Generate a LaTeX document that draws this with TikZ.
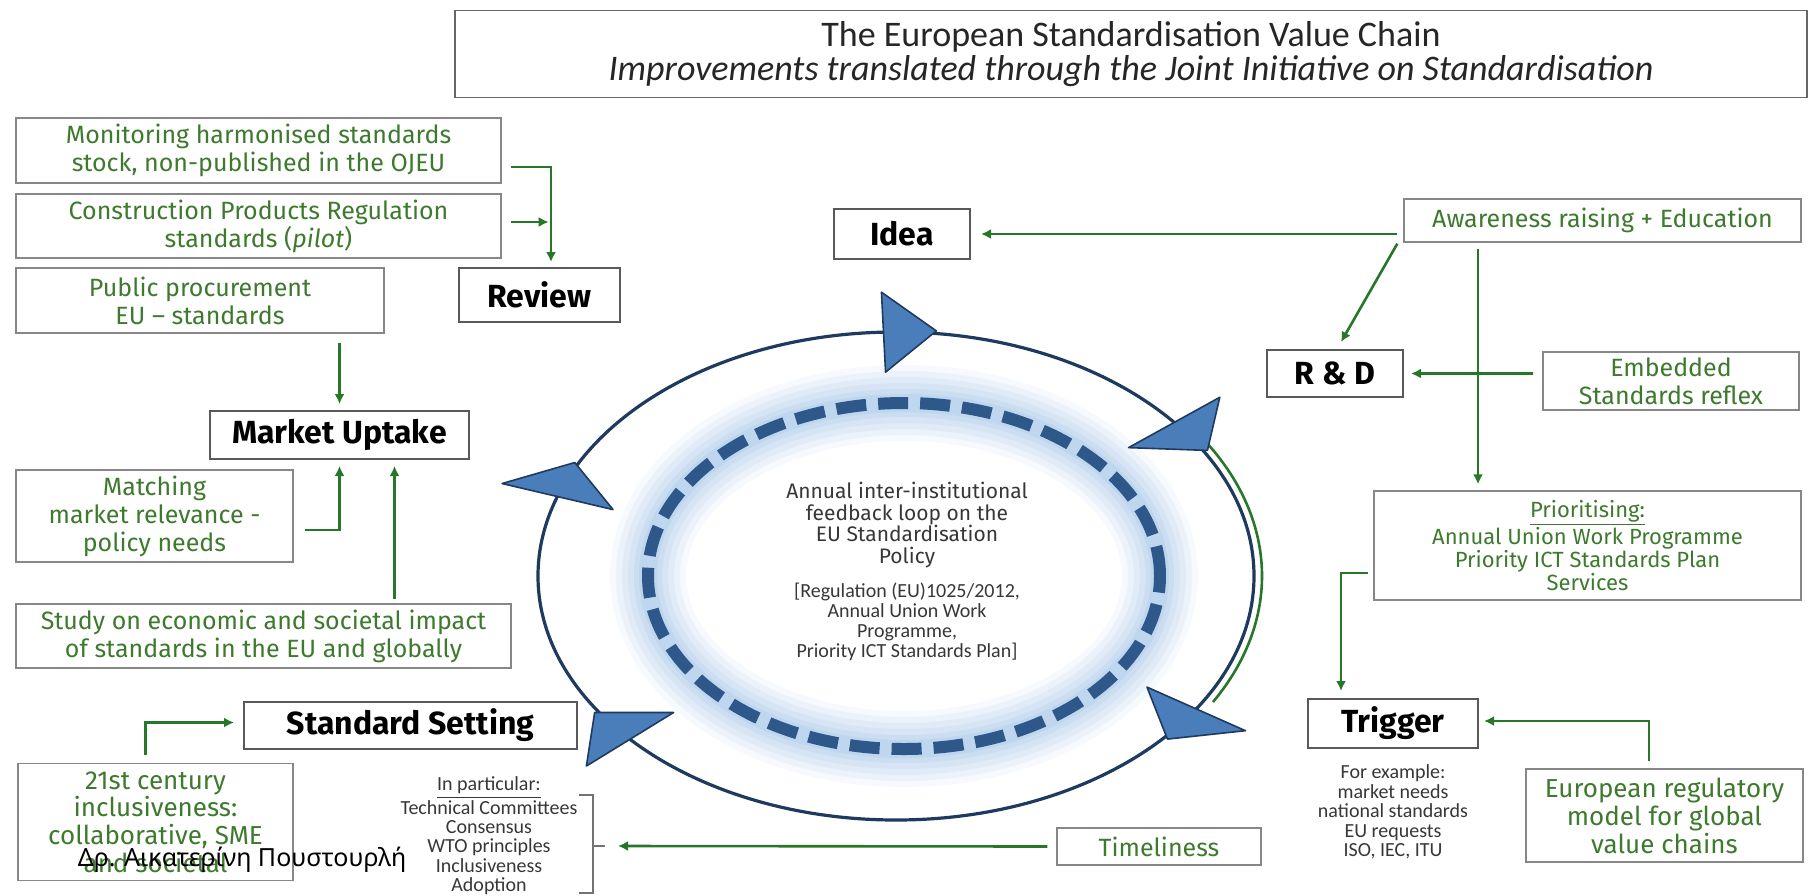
\documentclass[tikz,border=0pt]{standalone}
\usepackage{fontspec}
\setmainfont{Fira Sans}
\newfontfamily\narrowfont{Carlito}
\newfontfamily\greekfont{Noto Sans}
\usetikzlibrary{arrows.meta,calc}
\definecolor{eugreen}{RGB}{62,122,46}
\definecolor{arrowgreen}{RGB}{38,120,40}
\definecolor{boxgrey}{RGB}{135,135,135}
\definecolor{loopblue}{RGB}{31,58,95}
\definecolor{dashblue}{RGB}{46,88,138}
\definecolor{tipblue}{RGB}{74,126,187}
\definecolor{glowblue}{RGB}{150,190,232}
\definecolor{notegrey}{RGB}{55,55,55}

\begin{document}
\begin{tikzpicture}[x=0.5pt,y=-0.5pt,
                    sz/.style 2 args={minimum width=#1pt,minimum height=#2pt},
                    gbox/.style={draw=boxgrey,line width=0.7pt,text=eugreen,align=center,inner sep=0pt,
                                 font=\fontsize{12.5}{14}\selectfont},
                    kbox/.style={draw=black!65,line width=1pt,align=center,inner sep=0pt,
                                 font=\fontsize{16}{18}\selectfont\bfseries},
                    garrow/.style={draw=arrowgreen,line width=1.3pt,-{Latex[length=5pt,width=5pt]}},
                    note/.style={text=notegrey,align=center,inner sep=0pt,
                                 font=\narrowfont\fontsize{10}{9.7}\selectfont},
                    tip/.style={fill=tipblue,draw=loopblue,line width=0.8pt,line join=round}
]
\fill[white] (0,0) rectangle (1816,895);
\useasboundingbox (0,0) rectangle (1816,895);

% loop
\foreach \w/\o in {76/0.08,64/0.1,52/0.12,40/0.14,28/0.18,18/0.2}
  \draw[glowblue,line width=\w*0.5pt,opacity=\o] (904,576) ellipse [x radius=128pt,y radius=86.5pt];
\draw[dashblue,line width=6pt,dash pattern=on 15pt off 6pt] (904,576) ellipse [x radius=128pt,y radius=86.5pt];
\draw[loopblue,line width=1.6pt] (896,576) ellipse [x radius=179pt,y radius=122pt];
\draw[arrowgreen,line width=1.3pt] ({896+366*cos(34)},{576-252*sin(34)})
  arc [start angle=34,end angle=-30,x radius=183pt,y radius=126pt];
\begin{scope}[shift={(896,576)},xscale=1.467]
\foreach \a in {92,39,-33,-138,161}
  \filldraw[tip] ({244*cos(\a)+36*sin(\a)},{-244*sin(\a)+36*cos(\a)})
    -- ({284*cos(\a)},{-284*sin(\a)}) -- ({204*cos(\a)},{-204*sin(\a)}) -- cycle;
\end{scope}
\node[text=notegrey,align=center,inner sep=0pt,font=\fontsize{10.5}{10.8}\selectfont] (loop) at (907,525)
  {Annual inter-institutional\\feedback loop on the\\EU Standardisation\\Policy};
\node[note,font=\narrowfont\fontsize{10}{10}\selectfont] (reg) at (907,622)
  {[Regulation (EU)1025/2012,\\Annual Union Work\\Programme,\\Priority ICT Standards Plan]};

% title
\node[draw=black!60,line width=0.8pt,sz={676}{43.5},align=center,text=black!85,
      font=\narrowfont\fontsize{18}{17}\selectfont] (title) at (1131,54)
  {The European Standardisation Value Chain\\\textit{Improvements translated through the Joint Initiative on Standardisation}};

% left side
\node[gbox,sz={242.5}{32.5}] (mon) at (258.5,150.5) {Monitoring harmonised standards\\stock, non-published in the OJEU};
\node[gbox,sz={242.5}{32}] (cpr) at (258.5,226) {Construction Products Regulation\\standards (\textit{pilot})};
\node[gbox,sz={184}{32.5}] (pub) at (200,300.5) {Public procurement\\EU -- standards};
\node[kbox,sz={80.5}{27}] (review) at (539.5,295) {Review};
\node[kbox,sz={129.5}{24}] (mu) at (339.5,435) {Market Uptake};
\node[gbox,sz={138.5}{46}] (match) at (154.5,516) {Matching\\market relevance -\\policy needs};
\node[gbox,sz={247.5}{32}] (study) at (263.5,636) {Study on economic and societal impact\\of standards in the EU and globally};
\node[kbox,sz={166.5}{23.5}] (ss) at (410.5,725.5) {Standard Setting};
\node[gbox,sz={137.5}{58.5},font=\fontsize{13}{13.8}\selectfont] (c21) at (155.5,822)
  {21st century\\inclusiveness:\\collaborative, SME\\and societal};
\node[note] (inpart) at (489,836)
  {\underline{In particular:}\\Technical Committees\\Consensus\\WTO principles\\Inclusiveness\\Adoption};
\draw[black!55,line width=0.6pt] (579,795) -- (593,795) -- (593,893) -- (579,893) (593,846) -- (605,846);
\coordinate (brk) at (605,846);
\node[gbox,sz={102}{18.5}] (time) at (1159,846.5) {Timeliness};
\node[font=\greekfont\fontsize{12.5}{14}\selectfont,inner sep=0pt] (author) at (242,860) {Δρ. Αικατερίνη Πουστουρλή};

% right side
\node[kbox,sz={68}{25}] (idea) at (902,234) {Idea};
\node[gbox,sz={198.5}{21.5}] (aware) at (1602.5,220.5) {Awareness raising + Education};
\node[kbox,sz={68}{23.5}] (rd) at (1335,373.5) {R \& D};
\node[gbox,sz={128}{29}] (emb) at (1671,381) {Embedded\\Standards reflex};
\node[gbox,sz={213.5}{54.5},font=\fontsize{11}{11.5}\selectfont] (prio) at (1587.5,545.5)
  {\underline{Prioritising:}\\Annual Union Work Programme\\Priority ICT Standards Plan\\Services};
\node[kbox,sz={85}{24.5}] (trig) at (1393,723.5) {Trigger};
\node[note] (forex) at (1393,812) {For example:\\market needs\\national standards\\EU requests\\ISO, IEC, ITU};
\node[gbox,sz={138.5}{46.5},font=\fontsize{13}{14}\selectfont] (euro) at (1664.5,815.5)
  {European regulatory\\model for global\\value chains};

% connectors
\draw[garrow] ($(mon.east)+(9,16.5)$) -| ($(review.north)+(11.5,-5)$);
\draw[garrow] ($(cpr.east)+(9,-4)$) -- ++(38,0);
\draw[garrow] ($(mu.north |- pub.south)+(0,9)$) -- ($(mu.north)+(0,-6)$);
\draw[garrow] ($(match.east)+(11,14)$) -| ($(mu.south)+(0,6)$);
\draw[garrow] ($(mu.south |- study.north)+(55,-4)$) -- ($(mu.south)+(55,6)$);
\draw[garrow] ($(c21.north)+(-10,-8)$) |- ($(ss.west)+(-9,-3)$);
\draw[garrow] ($(time.west)+(-9,0)$) -- ($(brk)+(13,0)$);
%
\draw[garrow] ($(aware.west)+(-6,13.5)$) -- ($(idea.east)+(10,0)$);
\draw[garrow] ($(aware.south west)+(-6,1)$) -- ($(rd.north)+(6,-7)$);
\draw[garrow] ($(aware.south)+(-124.5,6)$) -- ($(prio.north)+(-109.5,-6)$);
\draw[garrow] ($(emb.west)+(-9,-7.5)$) -- ($(rd.east)+(7,0)$);
\draw[garrow] ($(prio.west)+(-5,27.5)$) -| ($(trig.north)+(-52,-7)$);
\draw[garrow] ($(euro.north)+(-15.5,-7)$) |- ($(trig.east)+(5,-2.5)$);
\end{tikzpicture}
\end{document}
